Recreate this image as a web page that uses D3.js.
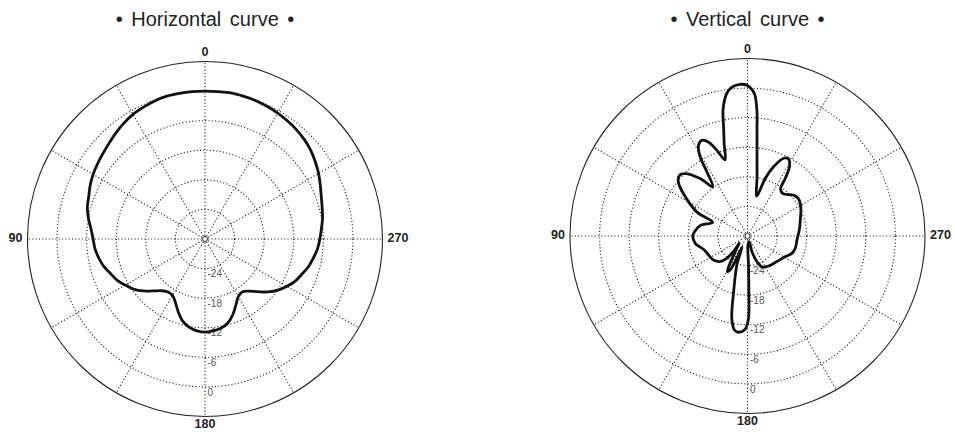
<!DOCTYPE html>
<html>
<head>
<meta charset="utf-8">
<script src="https://cdn.jsdelivr.net/npm/d3@7"></script>
<style>
  body { margin: 0; background: #fff; }
  svg { display: block; }
</style>
</head>
<body>
<div id="chart"></div>
<script>
const width = 955,
  height = 436,
  radius = 177.5;

// angles in degrees, counter-clockwise from the top (0 top, 90 left, 180 bottom)
const hAngles = [0, 5, 10, 15, 20, 25, 30, 35, 40, 45, 50, 55, 60, 65, 70, 75, 80, 85,
  90, 95, 100, 105, 110, 115, 120, 125, 130, 135, 140, 145, 150, 155, 160, 165, 170, 175,
  180, 185, 190, 195, 200, 205, 210, 215, 220, 225, 230, 235, 240, 245, 250, 255, 260, 265,
  270, 275, 280, 285, 290, 295, 300, 305, 310, 315, 320, 325, 330, 335, 340, 345, 350, 355];
const hValues = [0.0, 0.0, 0.0, 0.0, -0.2, -0.5, -0.8, -1.3, -1.9, -2.5, -3.0, -3.4, -3.8, -4.3, -4.9, -5.3, -6.0, -6.8,
  -7.3, -7.6, -8.1, -8.7, -9.6, -10.3, -11.3, -12.3, -13.6, -15.1, -16.3, -16.9, -16.8, -15.8, -14.2, -12.7, -11.8, -11.3,
  -11.1, -11.3, -11.6, -12.3, -13.6, -15.2, -16.5, -16.9, -16.2, -14.9, -13.3, -11.9, -10.8, -9.8, -9.1, -8.3, -7.7, -7.1,
  -6.7, -6.3, -5.8, -5.4, -4.9, -4.2, -3.4, -2.7, -2.0, -1.5, -1.1, -0.8, -0.5, -0.3, -0.1, 0.0, 0.1, 0.0];

// vertical pattern, traced in order round the outline
const vAngles = [0.3, 2.8, 5.3, 7.4, 9.1, 11, 12.4, 14.2, 16.5, 19.7, 22.5, 25.5, 28.4, 30.9, 32.2, 35.3,
  39.5, 45, 48.3, 52, 56.5, 64.6, 68.5, 77.3, 85.7, 90, 98, 108, 119, 126, 133, 137, 138, 131,
  140, 145, 148, 150.5, 153, 154, 154, 158, 159.8, 166, 169.2, 172.1, 174.7, 178.6, 180.7, 181.4,
  182, 183, 196, 196, 200, 205, 214, 229, 241, 249, 256, 267, 277, 287, 298.5, 306, 311.5, 320,
  325, 326.7, 328.9, 332, 335, 339.4, 342.9, 346.8, 350.8, 352.8, 354.1, 355.0, 355.7, 357.2, 359.2];
const vValues = [0.6, 0.8, 0.5, -0.2, -1.5, -4.0, -7.4, -10.7, -13.9, -11.5, -9.4, -8.5, -9.1, -11.3, -14.3, -17.8,
  -14.9, -12.1, -11.5, -12.2, -14.4, -18.6, -22.4, -20.2, -19.2, -18.9, -19.3, -20.8, -21.3, -21.6, -22.4, -23.8, -25.7, -27.8,
  -26.5, -25.0, -23.0, -21.7, -22.3, -24.5, -27.5, -25.6, -23.7, -18.4, -13.0, -10.75, -10.4, -11.1, -13.3, -18.7,
  -24.1, -28.2, -28.8, -26.7, -24.5, -23.1, -22.6, -22.1, -21.3, -20.3, -20.0, -19.9, -19.4, -18.8, -17.7, -17.2, -17.5, -18.8,
  -18.3, -16.1, -13.5, -12.3, -12.6, -15.0, -17.8, -21.7, -17.9, -14.6, -11.2, -7.9, -4.5, -1.1, 0.2];

const ringTicks = [-24, -18, -12, -6, 0];
const spokeAngles = [0, 30, 60, 90, 120, 150, 180, 210, 240, 270, 300, 330];
const angleLabels = [0, 90, 180, 270];

const charts = [
  { title: "• Horizontal curve •", cx: 205, cy: 239, angles: hAngles, values: hValues },
  { title: "• Vertical curve •", cx: 747.5, cy: 236, angles: vAngles, values: vValues }
];

const r = d3.scaleLinear().domain([-30, 6]).range([0, radius]);
const rad = d => d * Math.PI / 180;

const svg = d3.select("#chart")
  .append("svg")
  .attr("width", width)
  .attr("height", height)
  .style("font-family", "'Liberation Sans', Arial, sans-serif");

charts.forEach(c => drawPolar(c));

function drawPolar(c) {
  const g = svg.append("g").attr("transform", "translate(" + c.cx + "," + c.cy + ")");

  // title
  svg.append("text")
    .attr("x", c.cx)
    .attr("y", 26)
    .attr("text-anchor", "middle")
    .attr("font-size", 20)
    .attr("word-spacing", 3)
    .attr("fill", "#222")
    .text(c.title);

  // dotted rings
  g.selectAll(".ring")
    .data(ringTicks)
    .join("circle")
    .attr("class", "ring")
    .attr("r", d => r(d))
    .attr("fill", "none")
    .attr("stroke", "#1a1a1a")
    .attr("stroke-width", 1.1)
    .attr("stroke-dasharray", "1.1,2.2");

  // dotted spokes
  g.selectAll(".spoke")
    .data(spokeAngles)
    .join("line")
    .attr("class", "spoke")
    .attr("x1", 0)
    .attr("y1", 0)
    .attr("x2", d => -Math.sin(rad(d)) * radius)
    .attr("y2", d => -Math.cos(rad(d)) * radius)
    .attr("stroke", "#1a1a1a")
    .attr("stroke-width", 1.1)
    .attr("stroke-dasharray", "1.1,2.2");

  // outer circle
  g.append("circle")
    .attr("r", radius)
    .attr("fill", "none")
    .attr("stroke", "#222")
    .attr("stroke-width", 1.1);

  // ring labels along the 180 axis
  g.selectAll(".ring-label")
    .data(ringTicks)
    .join("text")
    .attr("class", "ring-label")
    .attr("x", 2.5)
    .attr("y", d => r(d) + 6)
    .attr("dominant-baseline", "middle")
    .attr("font-size", 10)
    .attr("fill", "#555")
    .text(d => d);

  // angle labels
  g.selectAll(".angle-label")
    .data(angleLabels)
    .join("text")
    .attr("class", "angle-label")
    .attr("x", d => d === 90 ? -radius - 5 : d === 270 ? radius + 5 : 0)
    .attr("y", d => d === 0 ? -radius - 9 : d === 180 ? radius + 8 : 0)
    .attr("text-anchor", d => d === 90 ? "end" : d === 270 ? "start" : "middle")
    .attr("dominant-baseline", "middle")
    .attr("font-size", 12.5)
    .attr("font-weight", "bold")
    .attr("fill", "#222")
    .text(d => d);

  // pattern curve
  const pts = c.angles.map((a, i) => [a, c.values[i]]);
  const line = d3.lineRadial()
    .angle(d => -rad(d[0]))
    .radius(d => r(d[1]))
    .curve(d3.curveCatmullRomClosed.alpha(0.5));

  g.append("path")
    .datum(pts)
    .attr("d", line)
    .attr("fill", "none")
    .attr("stroke", "#111")
    .attr("stroke-width", 2.8)
    .attr("stroke-linejoin", "round");

  // small circle at the centre
  g.append("circle")
    .attr("r", 2.5)
    .attr("fill", "#fff")
    .attr("stroke", "#333")
    .attr("stroke-width", 1);
}
</script>
</body>
</html>
